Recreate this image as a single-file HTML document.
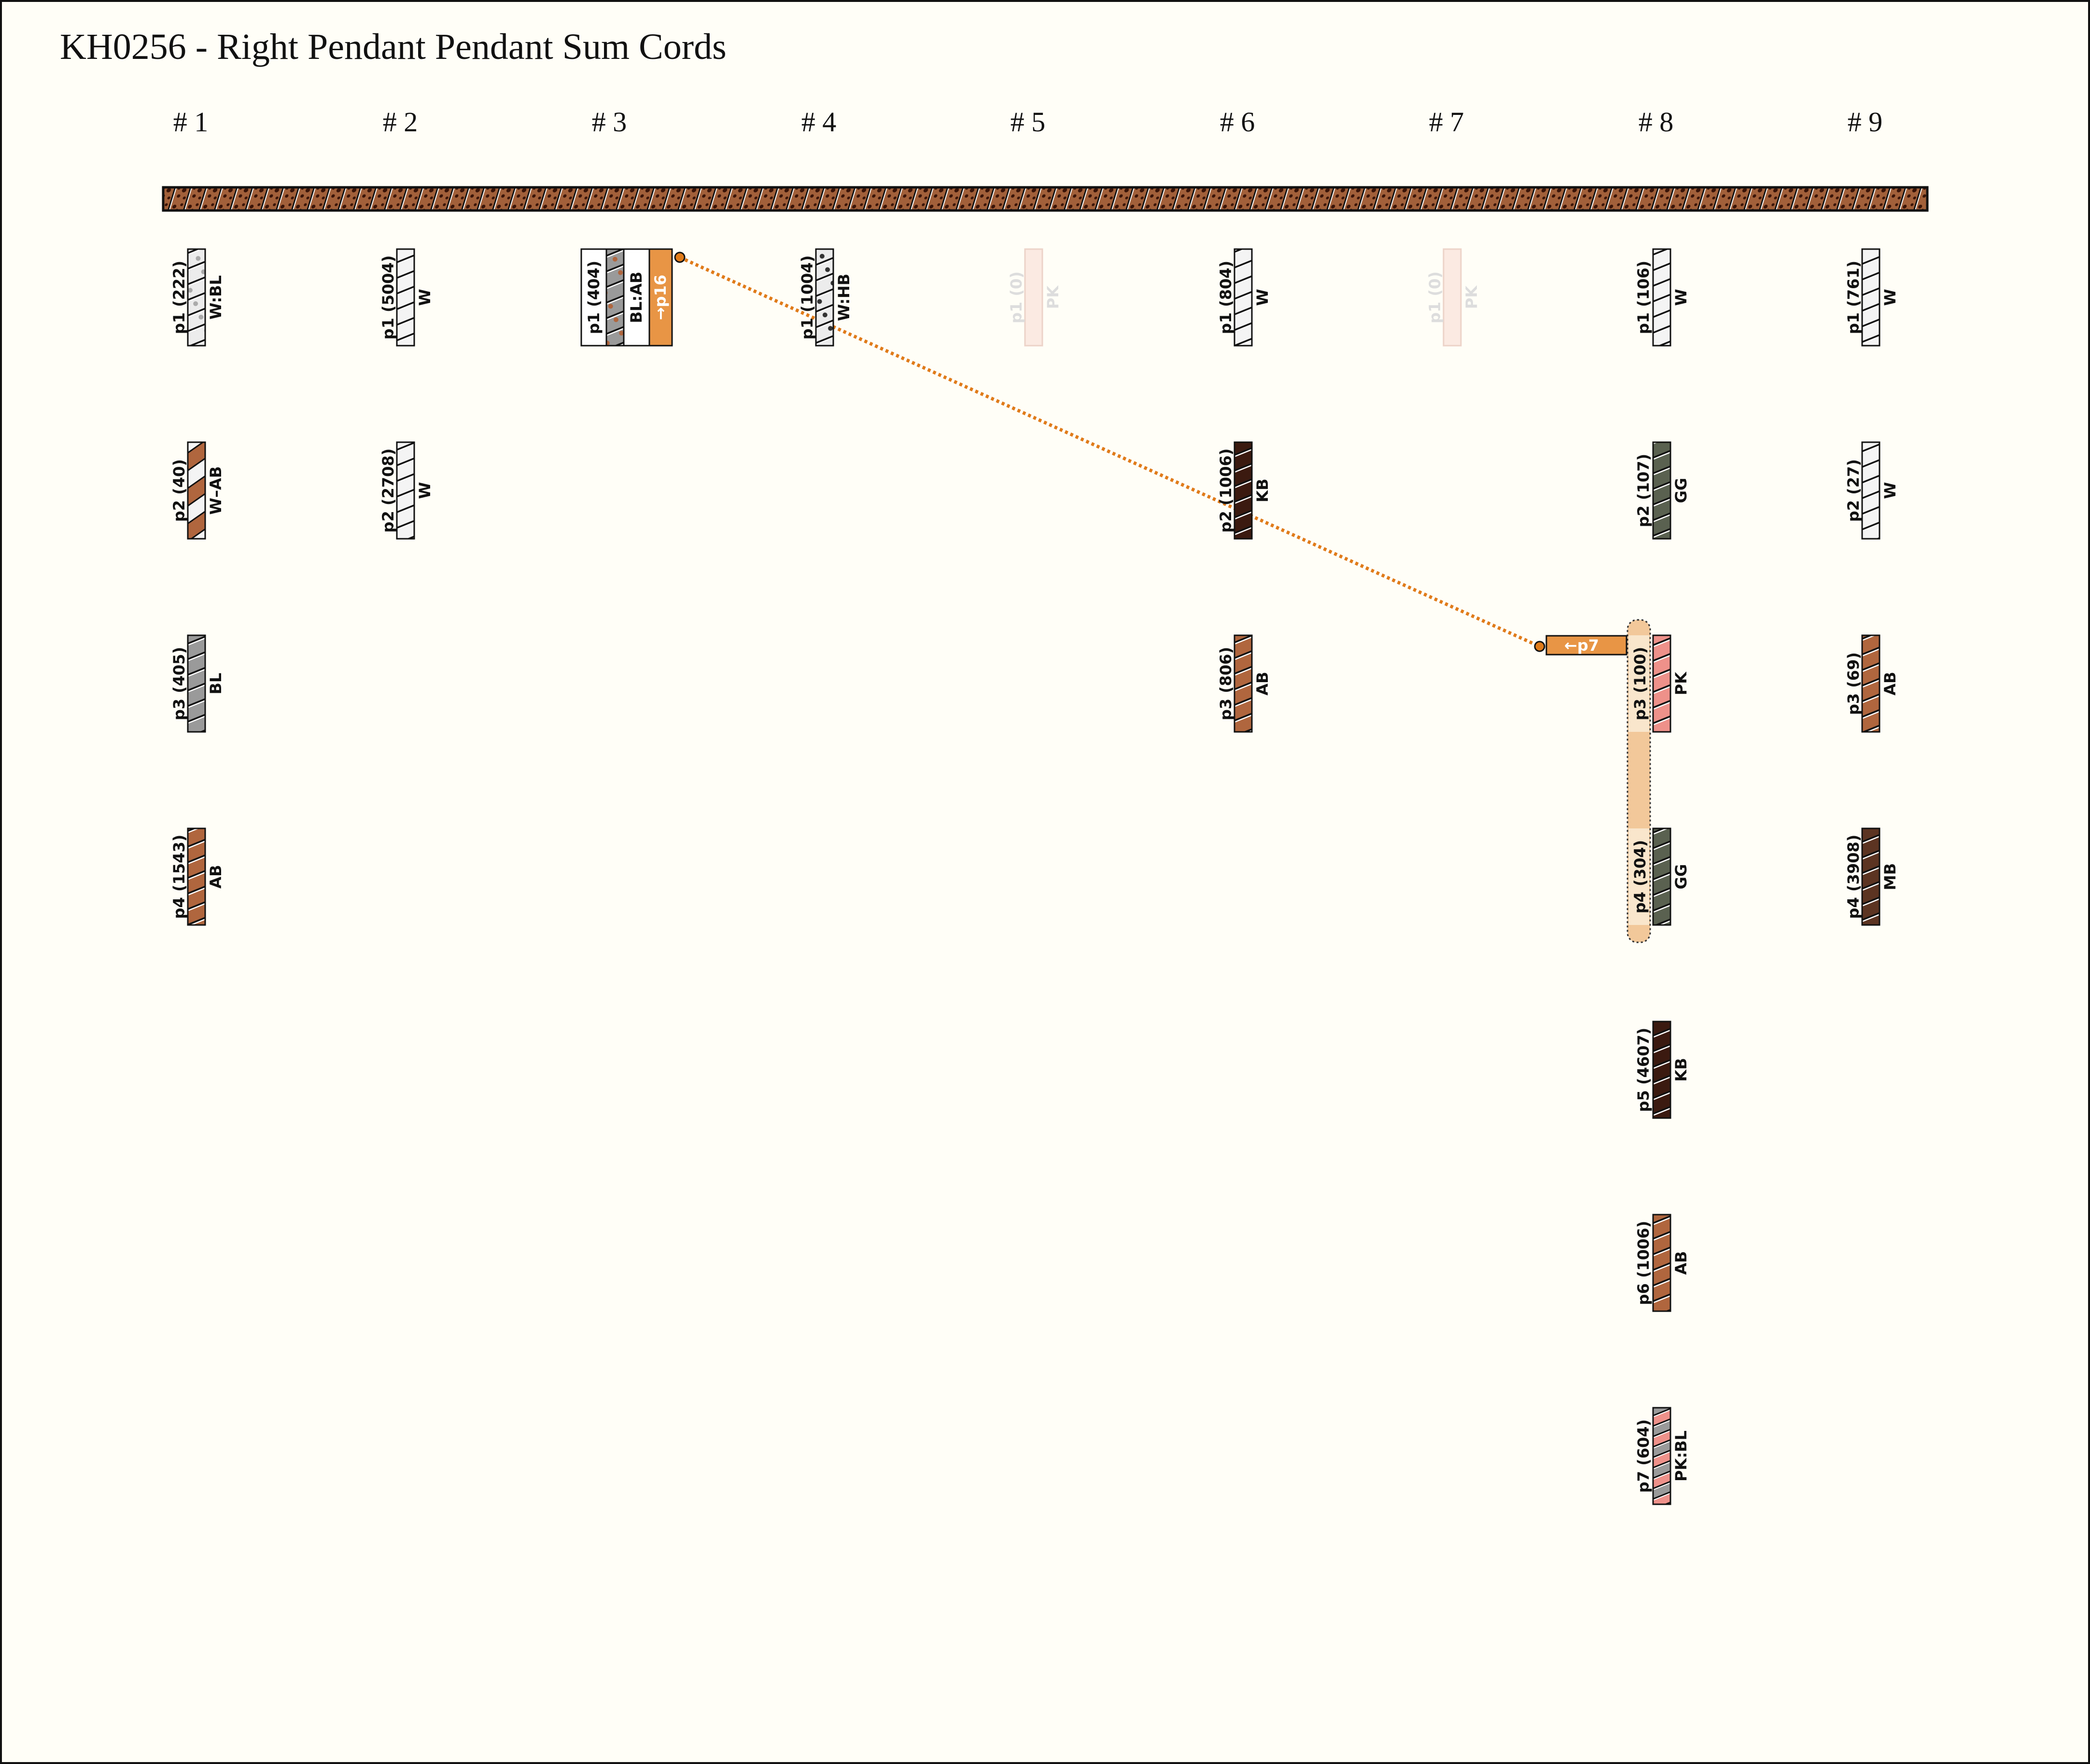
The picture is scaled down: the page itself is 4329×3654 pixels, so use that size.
<!DOCTYPE html>
<html><head><meta charset="utf-8"><style>
html,body{margin:0;padding:0;background:#fffef7}
svg{display:block}
.pl{font-family:"DejaVu Sans",sans-serif;font-weight:bold;font-size:32px;fill:#111}
</style></head><body>
<svg width="4329" height="3654" viewBox="0 0 4329 3654" xmlns="http://www.w3.org/2000/svg">
<defs>
<pattern id="bar" patternUnits="userSpaceOnUse" width="32" height="52" patternTransform="skewX(-17)">
<rect width="32" height="52" fill="#a2603a"/>
<rect x="0" width="3" height="52" fill="#111"/><rect x="3" width="2" height="52" fill="#fff"/>
<circle cx="12" cy="12" r="4" fill="#3a1408"/><circle cx="22" cy="30" r="4.5" fill="#3a1408"/><circle cx="14" cy="42" r="3.5" fill="#3a1408"/><circle cx="26" cy="8" r="3" fill="#3a1408"/><circle cx="10" cy="26" r="3" fill="#3a1408"/><circle cx="27" cy="46" r="3" fill="#3a1408"/><circle cx="19" cy="19" r="2.5" fill="#3a1408"/>
</pattern>
<pattern id="sW" patternUnits="userSpaceOnUse" width="120" height="30" patternTransform="rotate(-22)"><rect width="120" height="30" fill="#f4f4f4"/><rect y="0" width="120" height="3.5" fill="#111"/><rect y="3.5" width="120" height="2.5" fill="#fff"/></pattern>
<pattern id="sAB" patternUnits="userSpaceOnUse" width="120" height="30" patternTransform="rotate(-22)"><rect width="120" height="30" fill="#b0663e"/><rect width="120" height="3.5" fill="#111"/><rect y="3.5" width="120" height="2.5" fill="#fff"/></pattern>
<pattern id="sKB" patternUnits="userSpaceOnUse" width="120" height="30" patternTransform="rotate(-22)"><rect width="120" height="30" fill="#3b1a10"/><rect width="120" height="3.5" fill="#111"/><rect y="3.5" width="120" height="2.5" fill="#fff"/></pattern>
<pattern id="sGG" patternUnits="userSpaceOnUse" width="120" height="30" patternTransform="rotate(-22)"><rect width="120" height="30" fill="#5a6150"/><rect width="120" height="3.5" fill="#111"/><rect y="3.5" width="120" height="2.5" fill="#fff"/></pattern>
<pattern id="sPK" patternUnits="userSpaceOnUse" width="120" height="30" patternTransform="rotate(-22)"><rect width="120" height="30" fill="#ee918a"/><rect width="120" height="3.5" fill="#111"/><rect y="3.5" width="120" height="2.5" fill="#fff"/></pattern>
<pattern id="sBL" patternUnits="userSpaceOnUse" width="120" height="30" patternTransform="rotate(-22)"><rect width="120" height="30" fill="#9a9a9a"/><rect width="120" height="3.5" fill="#111"/><rect y="3.5" width="120" height="2.5" fill="#fff"/></pattern>
<pattern id="sMB" patternUnits="userSpaceOnUse" width="120" height="30" patternTransform="rotate(-22)"><rect width="120" height="30" fill="#5c3422"/><rect width="120" height="3.5" fill="#111"/><rect y="3.5" width="120" height="2.5" fill="#fff"/></pattern>
<pattern id="sWBL" patternUnits="userSpaceOnUse" width="120" height="30" patternTransform="rotate(-22)"><rect width="120" height="30" fill="#ececec"/><circle cx="20" cy="15" r="5" fill="#aaa"/><circle cx="60" cy="20" r="5" fill="#aaa"/><circle cx="95" cy="12" r="5" fill="#aaa"/><rect width="120" height="3.5" fill="#111"/><rect y="3.5" width="120" height="2.5" fill="#fff"/></pattern>
<pattern id="sWHB" patternUnits="userSpaceOnUse" width="120" height="30" patternTransform="rotate(-22)"><rect width="120" height="30" fill="#ececec"/><circle cx="20" cy="15" r="5" fill="#333"/><circle cx="60" cy="20" r="5" fill="#333"/><circle cx="95" cy="12" r="5" fill="#333"/><rect width="120" height="3.5" fill="#111"/><rect y="3.5" width="120" height="2.5" fill="#fff"/></pattern>
<pattern id="sBLAB" patternUnits="userSpaceOnUse" width="120" height="30" patternTransform="rotate(-22)"><rect width="120" height="30" fill="#9a9a9a"/><circle cx="20" cy="15" r="5" fill="#b0663e"/><circle cx="60" cy="20" r="5" fill="#b0663e"/><circle cx="95" cy="12" r="5" fill="#b0663e"/><rect width="120" height="3.5" fill="#111"/><rect y="3.5" width="120" height="2.5" fill="#fff"/></pattern>
<pattern id="sWAB" patternUnits="userSpaceOnUse" width="120" height="60" patternTransform="rotate(-35)"><rect width="120" height="30" fill="#f4f4f4"/><rect y="30" width="120" height="30" fill="#b0663e"/><rect width="120" height="3" fill="#111"/><rect y="30" width="120" height="3" fill="#111"/></pattern>
<pattern id="sPKBL" patternUnits="userSpaceOnUse" width="120" height="40" patternTransform="rotate(-22)"><rect width="120" height="20" fill="#ee918a"/><rect y="20" width="120" height="20" fill="#9a9a9a"/><rect width="120" height="3" fill="#111"/><rect y="3" width="120" height="2" fill="#fff"/><rect y="20" width="120" height="3" fill="#111"/><rect y="23" width="120" height="2" fill="#fff"/></pattern>
</defs>
<rect x="2" y="2" width="4325" height="3650" fill="#fffef7" stroke="#111" stroke-width="4"/>
<text x="124" y="122" font-family="Liberation Serif,serif" font-size="76" fill="#111">KH0256 - Right Pendant Pendant Sum Cords</text>
<g font-family="Liberation Serif,serif" font-size="58" fill="#111" text-anchor="middle">
<text x="395" y="272"># 1</text><text x="829" y="272"># 2</text><text x="1262" y="272"># 3</text><text x="1696" y="272"># 4</text><text x="2129" y="272"># 5</text><text x="2563" y="272"># 6</text><text x="2996" y="272"># 7</text><text x="3430" y="272"># 8</text><text x="3863" y="272"># 9</text>
</g>
<rect x="338" y="388" width="3654" height="48" fill="url(#bar)" stroke="#111" stroke-width="5"/>

<rect x="3371" y="1284" width="47" height="668" rx="20" fill="#f2c89a" stroke="#333" stroke-width="3" stroke-dasharray="4 5"/>
<rect x="3373" y="1316" width="43" height="200" fill="#f9e6cc"/>
<rect x="3373" y="1716" width="43" height="200" fill="#f9e6cc"/>

<line x1="1408" y1="533" x2="3189" y2="1339" stroke="#e07b1a" stroke-width="7" stroke-dasharray="6 6"/>

<g stroke="#111" stroke-width="3">
<rect x="389" y="516" width="36" height="200" fill="url(#sWBL)"/>
<rect x="389" y="916" width="36" height="200" fill="url(#sWAB)"/>
<rect x="389" y="1316" width="36" height="200" fill="url(#sBL)"/>
<rect x="389" y="1716" width="36" height="200" fill="url(#sAB)"/>
<rect x="822" y="516" width="36" height="200" fill="url(#sW)"/>
<rect x="822" y="916" width="36" height="200" fill="url(#sW)"/>
<rect x="1204" y="516" width="188" height="200" fill="#fff"/>
<rect x="1256" y="516" width="36" height="200" fill="url(#sBLAB)"/>
<rect x="1345" y="516" width="47" height="200" fill="#e89545"/>
<rect x="1690" y="516" width="36" height="200" fill="url(#sWHB)"/>
<rect x="2557" y="516" width="36" height="200" fill="url(#sW)"/>
<rect x="2557" y="916" width="36" height="200" fill="url(#sKB)"/>
<rect x="2557" y="1316" width="36" height="200" fill="url(#sAB)"/>
<rect x="3424" y="516" width="36" height="200" fill="url(#sW)"/>
<rect x="3424" y="916" width="36" height="200" fill="url(#sGG)"/>
<rect x="3424" y="1316" width="36" height="200" fill="url(#sPK)"/>
<rect x="3424" y="1716" width="36" height="200" fill="url(#sGG)"/>
<rect x="3424" y="2116" width="36" height="200" fill="url(#sKB)"/>
<rect x="3424" y="2516" width="36" height="200" fill="url(#sAB)"/>
<rect x="3424" y="2916" width="36" height="200" fill="url(#sPKBL)"/>
<rect x="3857" y="516" width="36" height="200" fill="url(#sW)"/>
<rect x="3857" y="916" width="36" height="200" fill="url(#sW)"/>
<rect x="3857" y="1316" width="36" height="200" fill="url(#sAB)"/>
<rect x="3857" y="1716" width="36" height="200" fill="url(#sMB)"/>
<rect x="3203" y="1317" width="166" height="39" fill="#e89545"/>
<circle cx="1408" cy="533" r="10" fill="#e07b1a"/>
<circle cx="3189" cy="1339" r="10" fill="#e07b1a"/>
</g>
<rect x="2123" y="516" width="36" height="200" fill="#fbeae2" stroke="#ecd3c8" stroke-width="3"/>
<rect x="2990" y="516" width="36" height="200" fill="#fbeae2" stroke="#ecd3c8" stroke-width="3"/>

<g class="pl" text-anchor="middle" dominant-baseline="central">
<text transform="translate(371,616) rotate(-90)">p1 (222)</text><text transform="translate(447,616) rotate(-90)">W:BL</text>
<text transform="translate(371,1016) rotate(-90)">p2 (40)</text><text transform="translate(447,1016) rotate(-90)">W–AB</text>
<text transform="translate(371,1416) rotate(-90)">p3 (405)</text><text transform="translate(447,1416) rotate(-90)">BL</text>
<text transform="translate(371,1816) rotate(-90)">p4 (1543)</text><text transform="translate(447,1816) rotate(-90)">AB</text>

<text transform="translate(804,616) rotate(-90)">p1 (5004)</text><text transform="translate(880,616) rotate(-90)">W</text>
<text transform="translate(804,1016) rotate(-90)">p2 (2708)</text><text transform="translate(880,1016) rotate(-90)">W</text>

<text transform="translate(1230,616) rotate(-90)">p1 (404)</text><text transform="translate(1318,616) rotate(-90)">BL:AB</text>
<text transform="translate(1368,616) rotate(-90)" style="fill:#fff">→p16</text>

<text transform="translate(1672,616) rotate(-90)">p1 (1004)</text><text transform="translate(1748,616) rotate(-90)">W:HB</text>

<text transform="translate(2105,616) rotate(-90)" style="fill:#ddd">p1 (0)</text><text transform="translate(2181,616) rotate(-90)" style="fill:#ddd">PK</text>

<text transform="translate(2539,616) rotate(-90)">p1 (804)</text><text transform="translate(2615,616) rotate(-90)">W</text>
<text transform="translate(2539,1016) rotate(-90)">p2 (1006)</text><text transform="translate(2615,1016) rotate(-90)">KB</text>
<text transform="translate(2539,1416) rotate(-90)">p3 (806)</text><text transform="translate(2615,1416) rotate(-90)">AB</text>

<text transform="translate(2972,616) rotate(-90)" style="fill:#ddd">p1 (0)</text><text transform="translate(3048,616) rotate(-90)" style="fill:#ddd">PK</text>

<text transform="translate(3404,616) rotate(-90)">p1 (106)</text><text transform="translate(3482,616) rotate(-90)">W</text>
<text transform="translate(3404,1016) rotate(-90)">p2 (107)</text><text transform="translate(3482,1016) rotate(-90)">GG</text>
<text transform="translate(3397,1416) rotate(-90)">p3 (100)</text><text transform="translate(3482,1416) rotate(-90)">PK</text>
<text transform="translate(3397,1816) rotate(-90)">p4 (304)</text><text transform="translate(3482,1816) rotate(-90)">GG</text>
<text transform="translate(3404,2216) rotate(-90)">p5 (4607)</text><text transform="translate(3482,2216) rotate(-90)">KB</text>
<text transform="translate(3404,2616) rotate(-90)">p6 (1006)</text><text transform="translate(3482,2616) rotate(-90)">AB</text>
<text transform="translate(3404,3016) rotate(-90)">p7 (604)</text><text transform="translate(3482,3016) rotate(-90)">PK:BL</text>

<text transform="translate(3839,616) rotate(-90)">p1 (761)</text><text transform="translate(3915,616) rotate(-90)">W</text>
<text transform="translate(3839,1016) rotate(-90)">p2 (27)</text><text transform="translate(3915,1016) rotate(-90)">W</text>
<text transform="translate(3839,1416) rotate(-90)">p3 (69)</text><text transform="translate(3915,1416) rotate(-90)">AB</text>
<text transform="translate(3839,1816) rotate(-90)">p4 (3908)</text><text transform="translate(3915,1816) rotate(-90)">MB</text>
</g>
<text x="3276" y="1337" class="pl" text-anchor="middle" dominant-baseline="central" style="fill:#fff">←p7</text>
</svg>
</body></html>
